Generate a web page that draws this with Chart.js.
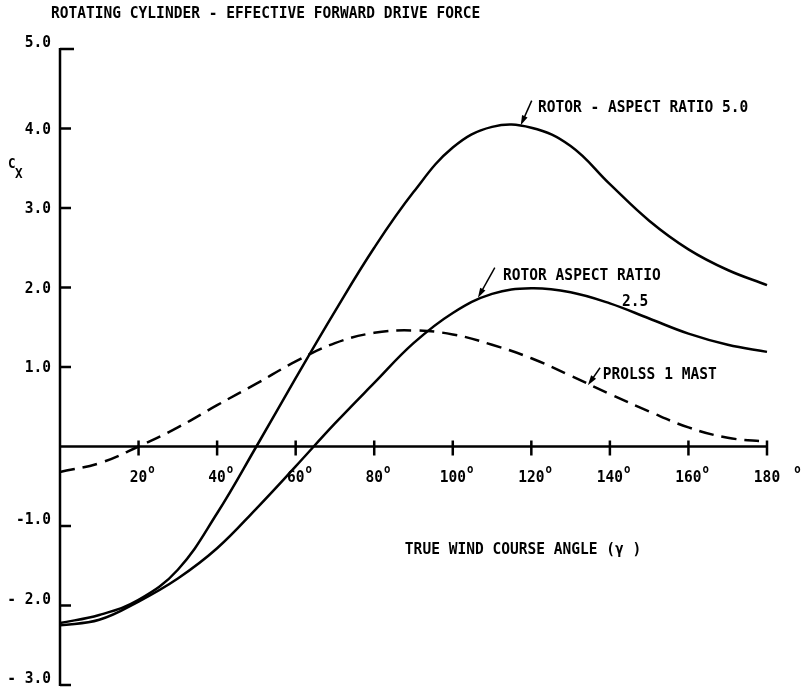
<!DOCTYPE html>
<html lang="en">
<head>
<meta charset="UTF-8">
<title>Rotating Cylinder - Effective Forward Drive Force</title>
<script src="https://cdn.jsdelivr.net/npm/chart.js"></script>
<style>
    html, body { margin: 0; padding: 0; background: #fff; }
    #wrap { width: 808px; height: 692px; }
</style>
</head>
<body>
<div id="wrap"><canvas id="cxChart" width="808" height="692"></canvas></div>
<script>
// true wind course angle (deg) and Cx values
const angles     = [0, 10, 20, 30, 40, 50, 60, 70, 80, 90, 100, 110, 120, 130, 140, 150, 160, 170, 180];
const rotorAR5   = [-2.22, -2.12, -1.93, -1.55, -0.84, 0.0, 0.86, 1.70, 2.50, 3.20, 3.76, 4.02, 4.01, 3.78, 3.30, 2.84, 2.48, 2.22, 2.03];
const rotorAR25  = [-2.25, -2.18, -1.95, -1.66, -1.28, -0.78, -0.25, 0.29, 0.80, 1.30, 1.68, 1.92, 1.99, 1.94, 1.80, 1.61, 1.42, 1.28, 1.19];
const prolssMast = [-0.32, -0.21, 0.0, 0.24, 0.52, 0.79, 1.07, 1.30, 1.43, 1.46, 1.41, 1.28, 1.11, 0.89, 0.66, 0.44, 0.24, 0.11, 0.06];

const xTicks = [20, 40, 60, 80, 100, 120, 140, 160, 180];
const yTicks = [5, 4, 3, 2, 1, -1, -2, -3];
const yTickLabels = ['5.0', '4.0', '3.0', '2.0', '1.0', '-1.0', '- 2.0', '- 3.0'];

const INK = '#000';
const FONT = '"DejaVu Sans Mono", "Liberation Mono", monospace';

function toPoints(vals) {
    return angles.map((a, i) => ({ x: a, y: vals[i] }));
}

// tall, narrow typewriter-ish text
function txt(ctx, s, x, y, size, align) {
    ctx.save();
    ctx.font = 'bold ' + size + 'px ' + FONT;
    ctx.textAlign = align || 'left';
    ctx.textBaseline = 'alphabetic';
    ctx.translate(x, y);
    ctx.scale(0.97, 1.1);
    ctx.fillText(s, 0, 0);
    ctx.restore();
}

function arrow(ctx, x1, y1, x2, y2) {
    const ang = Math.atan2(y2 - y1, x2 - x1);
    ctx.beginPath();
    ctx.moveTo(x1, y1);
    ctx.lineTo(x2 - 6 * Math.cos(ang), y2 - 6 * Math.sin(ang));
    ctx.lineWidth = 1.5;
    ctx.stroke();
    ctx.beginPath();
    ctx.moveTo(x2, y2);
    ctx.lineTo(x2 - 10 * Math.cos(ang) + 3 * Math.sin(ang), y2 - 10 * Math.sin(ang) - 3 * Math.cos(ang));
    ctx.lineTo(x2 - 10 * Math.cos(ang) - 3 * Math.sin(ang), y2 - 10 * Math.sin(ang) + 3 * Math.cos(ang));
    ctx.closePath();
    ctx.fill();
}

const axesPlugin = {
    id: 'handAxes',
    afterDraw(chart) {
        const { ctx, scales: { x, y } } = chart;
        const X = v => x.getPixelForValue(v);
        const Y = v => y.getPixelForValue(v);

        ctx.save();
        ctx.strokeStyle = INK;
        ctx.fillStyle = INK;
        ctx.lineCap = 'butt';
        ctx.lineWidth = 2.5;

        // y axis with inward ticks
        ctx.beginPath();
        ctx.moveTo(X(0), Y(5) - 1);
        ctx.lineTo(X(0), Y(-3) + 1);
        yTicks.forEach(v => {
            ctx.moveTo(X(0), Y(v));
            ctx.lineTo(X(0) + (v === 5 ? 14 : 11), Y(v));
        });
        ctx.stroke();

        // x axis along Cx = 0
        ctx.beginPath();
        ctx.moveTo(X(0), Y(0));
        ctx.lineTo(X(180), Y(0));
        xTicks.forEach(v => {
            ctx.moveTo(X(v), Y(0) - 6);
            ctx.lineTo(X(v), Y(0) + 9);
        });
        ctx.stroke();

        // tick labels
        yTicks.forEach((v, i) => {
            const lift = (v < 0 || v === 5) ? 7 : 0;
            txt(ctx, yTickLabels[i], X(0) - 9, Y(v) + 5 - lift, 15, 'right');
        });
        xTicks.forEach(v => {
            const s = String(v);
            ctx.font = 'bold 15px ' + FONT;
            const w = ctx.measureText(s).width * 0.97;
            txt(ctx, s, X(v), Y(0) + 35, 15, 'center');
            txt(ctx, 'o', X(v) + w / 2 + (v === 180 ? 14 : 1), Y(0) + 26, 11, 'left');
        });

        // titles
        txt(ctx, 'ROTATING CYLINDER - EFFECTIVE FORWARD DRIVE FORCE', 51, 18, 15, 'left');
        txt(ctx, 'C', 8, 168, 13, 'left');
        txt(ctx, 'X', 15, 178, 13, 'left');
        txt(ctx, 'TRUE WIND COURSE ANGLE (\u03B3 )', X(87.8), Y(-1.35), 15, 'left');

        // curve labels with arrows
        txt(ctx, 'ROTOR - ASPECT RATIO 5.0', X(121.7), Y(4.21), 15, 'left');
        arrow(ctx, X(120.1), Y(4.35), X(117.3), Y(4.04));

        txt(ctx, 'ROTOR ASPECT RATIO', X(112.8), Y(2.10), 15, 'left');
        txt(ctx, '2.5', X(143.1), Y(1.77), 15, 'left');
        arrow(ctx, X(110.7), Y(2.25), X(106.4), Y(1.87));

        txt(ctx, 'PROLSS 1 MAST', X(138.2), Y(0.855), 15, 'left');
        arrow(ctx, X(137.5), Y(0.99), X(134.4), Y(0.77));

        ctx.restore();
    }
};

const lineStyle = {
    borderColor: INK,
    borderWidth: 2.5,
    pointRadius: 0,
    fill: false,
    tension: 0.4
};

new Chart(document.getElementById('cxChart'), {
    type: 'line',
    data: {
        datasets: [
            { label: 'Rotor - aspect ratio 5.0', data: toPoints(rotorAR5), ...lineStyle },
            { label: 'Rotor aspect ratio 2.5', data: toPoints(rotorAR25), ...lineStyle },
            { label: 'Prolss 1 mast', data: toPoints(prolssMast), ...lineStyle, borderDash: [15, 8] }
        ]
    },
    options: {
        responsive: false,
        animation: false,
        clip: false,
        layout: { padding: { left: 60, right: 41, top: 49, bottom: 7 } },
        scales: {
            x: { type: 'linear', min: 0, max: 180, display: false },
            y: { type: 'linear', min: -3, max: 5, display: false }
        },
        plugins: {
            legend: { display: false },
            tooltip: { enabled: false }
        }
    },
    plugins: [axesPlugin]
});
</script>
</body>
</html>
